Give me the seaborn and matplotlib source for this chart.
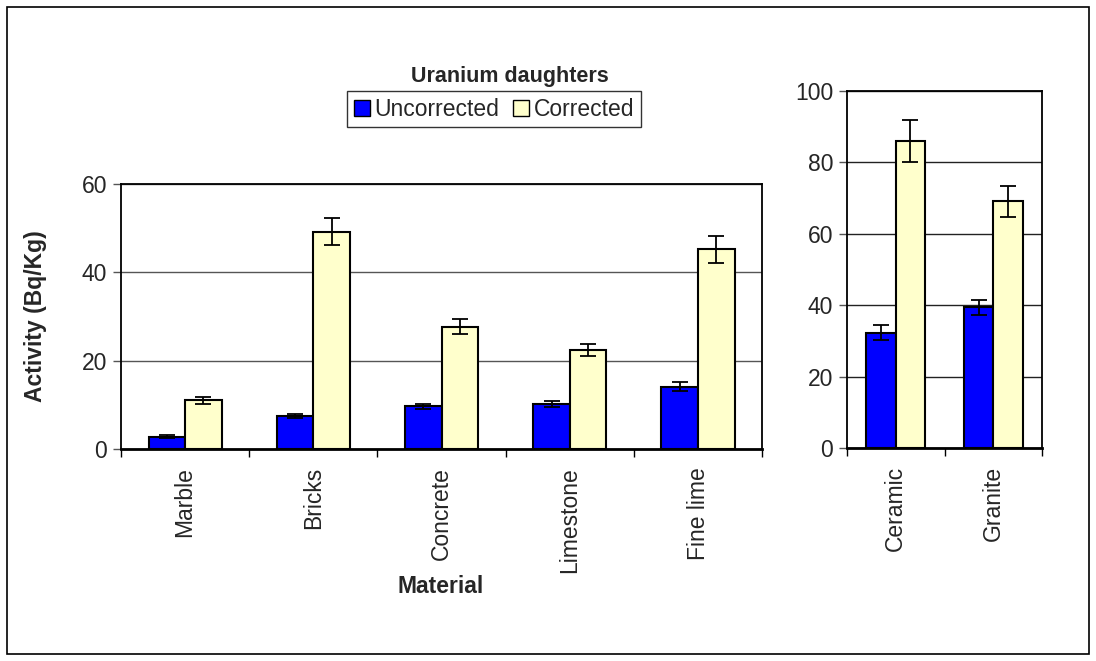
import pandas as pd
import matplotlib
matplotlib.use('Agg')
import matplotlib.pyplot as plt
import seaborn as sns
from matplotlib.patches import Rectangle

# data
materials_low = ['Marble', 'Bricks', 'Concrete', 'Limestone', 'Fine lime']
uncorr_low = [2.8, 7.5, 9.7, 10.1, 14.1]
uncorr_low_err = [0.3, 0.4, 0.6, 0.7, 1.0]
corr_low = [11.0, 49.2, 27.7, 22.4, 45.2]
corr_low_err = [0.8, 3.0, 1.7, 1.4, 3.1]

materials_high = ['Ceramic', 'Granite']
uncorr_high = [32.3, 39.4]
uncorr_high_err = [2.1, 2.2]
corr_high = [85.9, 69.1]
corr_high_err = [5.9, 4.3]

series = ['Uncorrected', 'Corrected']
colors = ['#0000FF', '#FFFFCC']

sns.set_style('white')
plt.rcParams['font.family'] = ['Liberation Sans', 'DejaVu Sans']

FS = 16.5


def long_table(cats, unc, cor):
    return pd.DataFrame({
        'Material': cats + cats,
        'Activity': unc + cor,
        'Type': [series[0]] * len(cats) + [series[1]] * len(cats),
    })


def draw_panel(ax, cats, unc, unc_err, cor, cor_err, width, ymax, step, gridcol):
    df = long_table(cats, unc, cor)
    sns.barplot(data=df, x='Material', y='Activity', hue='Type', hue_order=series,
                palette=colors, saturation=1, width=width, edgecolor='black',
                linewidth=1.5, ax=ax, legend=False)
    for cont, errs in zip(ax.containers, [unc_err, cor_err]):
        xs = [b.get_x() + b.get_width() / 2 for b in cont]
        ys = [b.get_height() for b in cont]
        ax.errorbar(xs, ys, yerr=errs, fmt='none', ecolor='black',
                    elinewidth=1.3, capsize=6, capthick=1.3, zorder=5)
    ax.set_ylim(0, ymax)
    ax.set_xlim(-0.5, len(cats) - 0.5)
    ax.set_yticks(range(0, ymax + 1, step))
    ax.yaxis.grid(True, color=gridcol, linewidth=1.0)
    ax.set_axisbelow(True)
    for s in ax.spines.values():
        s.set_visible(True)
        s.set_color('black')
        s.set_linewidth(1.3)
    ax.spines['bottom'].set_linewidth(2.0)
    ax.set_xlabel('')
    ax.set_ylabel('')
    ax.set_xticks([i - 0.5 for i in range(len(cats) + 1)], minor=True)
    ax.tick_params(axis='x', which='major', length=0, labelsize=FS,
                   labelrotation=90, pad=13)
    ax.tick_params(axis='x', which='minor', length=6, width=1.0,
                   direction='out', color='black', bottom=True)
    ax.tick_params(axis='y', length=6, width=1.0, direction='out',
                   color='#555555', left=True, labelsize=FS, pad=4)


fig = plt.figure(figsize=(10.96, 6.61), dpi=100)

ax1 = fig.add_axes([0.1104, 0.3207, 0.585, 0.401])
draw_panel(ax1, materials_low, uncorr_low, uncorr_low_err, corr_low, corr_low_err,
           0.57, 60, 20, '#555555')

ax2 = fig.add_axes([0.7728, 0.3222, 0.178, 0.540])
draw_panel(ax2, materials_high, uncorr_high, uncorr_high_err, corr_high, corr_high_err,
           0.6, 100, 20, '#222222')

fig.text(0.465, 0.884, 'Uranium daughters', ha='center', va='center',
         fontsize=15.5, fontweight='bold')
fig.text(0.032, 0.522, 'Activity (Bq/Kg)', ha='center', va='center',
         rotation=90, fontsize=FS, fontweight='bold')
fig.text(0.402, 0.113, 'Material', ha='center', va='center',
         fontsize=FS, fontweight='bold')

handles = [Rectangle((0, 0), 1, 1, facecolor=c, edgecolor='black', linewidth=1.0)
           for c in colors]
leg = fig.legend(handles, series, loc='center', bbox_to_anchor=(0.451, 0.835),
                 ncol=2, frameon=True, fancybox=False, edgecolor='black',
                 fontsize=FS, handlelength=0.7, handleheight=0.7,
                 handletextpad=0.2, columnspacing=0.6, borderpad=0.3)
leg.get_frame().set_linewidth(1.0)

fig.patches.append(Rectangle((7 / 1096, 7 / 661), 1 - 14 / 1096, 1 - 14 / 661,
                             transform=fig.transFigure, fill=False,
                             edgecolor='black', linewidth=1.2))

fig.savefig('out.png', dpi=100)
